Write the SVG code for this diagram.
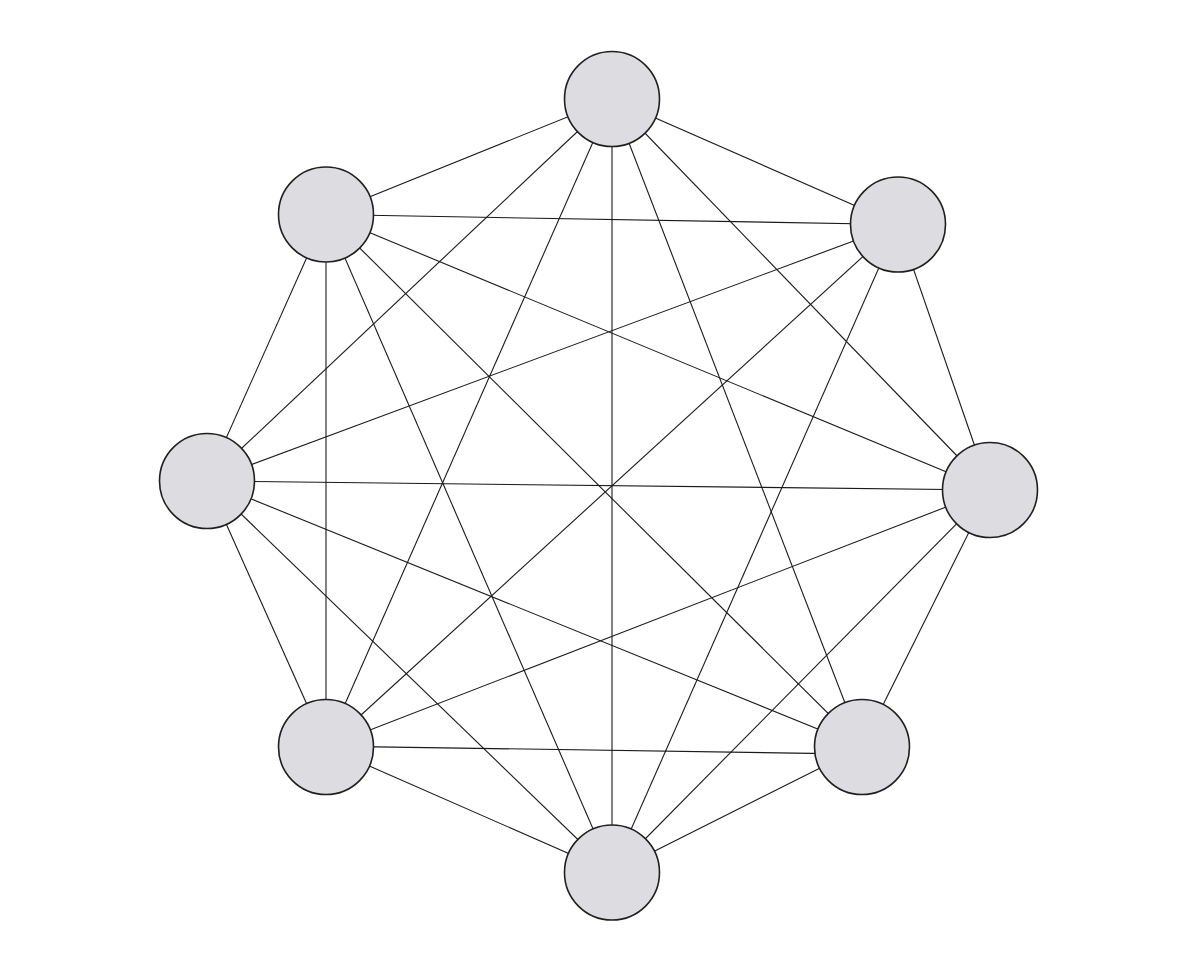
<svg xmlns="http://www.w3.org/2000/svg" width="1188" height="979" viewBox="0 0 1188 979">
<style>
.e{stroke:#1a1a1a;stroke-width:1.1;fill:none}
.n{fill:#dddde1;stroke:#1f1f1f;stroke-width:1.6}
</style>
<rect width="1188" height="979" fill="#ffffff"/>
<g id="connectors">
<line class="e" x1="612" y1="99" x2="326" y2="214.5"/>
<line class="e" x1="612" y1="99" x2="898" y2="224.5"/>
<line class="e" x1="612" y1="99" x2="207" y2="481"/>
<line class="e" x1="612" y1="99" x2="990" y2="490"/>
<line class="e" x1="612" y1="99" x2="326" y2="747"/>
<line class="e" x1="612" y1="99" x2="862" y2="747"/>
<line class="e" x1="612" y1="99" x2="612" y2="872.5"/>
<line class="e" x1="326" y1="214.5" x2="898" y2="224.5"/>
<line class="e" x1="326" y1="214.5" x2="207" y2="481"/>
<line class="e" x1="326" y1="214.5" x2="990" y2="490"/>
<line class="e" x1="326" y1="214.5" x2="326" y2="747"/>
<line class="e" x1="326" y1="214.5" x2="862" y2="747"/>
<line class="e" x1="326" y1="214.5" x2="612" y2="872.5"/>
<line class="e" x1="898" y1="224.5" x2="207" y2="481"/>
<line class="e" x1="898" y1="224.5" x2="990" y2="490"/>
<line class="e" x1="898" y1="224.5" x2="326" y2="747"/>
<line class="e" x1="898" y1="224.5" x2="612" y2="872.5"/>
<line class="e" x1="207" y1="481" x2="990" y2="490"/>
<line class="e" x1="207" y1="481" x2="326" y2="747"/>
<line class="e" x1="207" y1="481" x2="862" y2="747"/>
<line class="e" x1="207" y1="481" x2="612" y2="872.5"/>
<line class="e" x1="990" y1="490" x2="326" y2="747"/>
<line class="e" x1="990" y1="490" x2="862" y2="747"/>
<line class="e" x1="990" y1="490" x2="612" y2="872.5"/>
<line class="e" x1="326" y1="746.1" x2="862" y2="754.1"/>
<line class="e" x1="326" y1="747" x2="612" y2="872.5"/>
<line class="e" x1="862" y1="747" x2="612" y2="872.5"/>
</g>
<g id="node-top"><circle class="n" cx="612" cy="99" r="47.5"/></g>
<g id="node-upper-left"><circle class="n" cx="326" cy="214.5" r="47.5"/></g>
<g id="node-upper-right"><circle class="n" cx="898" cy="224.5" r="47.5"/></g>
<g id="node-left"><circle class="n" cx="207" cy="481" r="47.5"/></g>
<g id="node-right"><circle class="n" cx="990" cy="490" r="47.5"/></g>
<g id="node-lower-left"><circle class="n" cx="326" cy="747" r="47.5"/></g>
<g id="node-lower-right"><circle class="n" cx="862" cy="747" r="47.5"/></g>
<g id="node-bottom"><circle class="n" cx="612" cy="872.5" r="47.5"/></g>
</svg>
